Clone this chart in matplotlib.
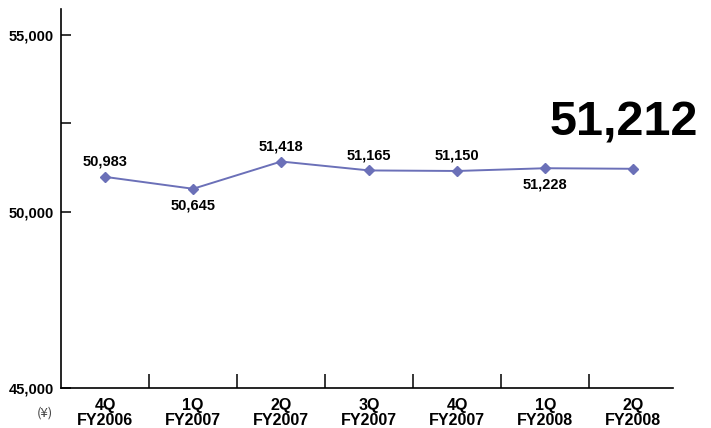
import matplotlib.pyplot as plt
import numpy as np

plt.rcParams['font.family'] = ['Liberation Sans', 'DejaVu Sans']

quarters = ['4Q\nFY2006', '1Q\nFY2007', '2Q\nFY2007', '3Q\nFY2007',
            '4Q\nFY2007', '1Q\nFY2008', '2Q\nFY2008']
values = [50983, 50645, 51418, 51165, 51150, 51228, 51212]
label_pos = ['above', 'below', 'above', 'above', 'above', 'below', None]

fig = plt.figure(figsize=(7.11, 4.28), dpi=100)
ax = fig.add_axes([61 / 711, 40 / 428, 612 / 711, 379 / 428])

x = np.arange(len(values))
ax.plot(x, values, color='#6b70b8', lw=1.4, marker='D', ms=5.5,
        mfc='#6b70b8', mec='#6b70b8', zorder=3)

for xi, v, pos in zip(x, values, label_pos):
    if pos is None:
        continue
    dy = 11 if pos == 'above' else -12
    ax.annotate(f'{v:,}', (xi, v), xytext=(0, dy), textcoords='offset points',
                ha='center', va='center', fontsize=10.5, fontweight='bold')

# latest value shown large
ax.annotate(f'{values[-1]:,}', (x[-1], values[-1]), xytext=(-7, 33),
            textcoords='offset points', ha='center', va='center',
            fontsize=35, fontweight='bold', annotation_clip=False)

ax.set_xlim(-0.5, 6.45)
ax.set_ylim(45000, 55740)

ax.spines['top'].set_visible(False)
ax.spines['right'].set_visible(False)
for s in ('left', 'bottom'):
    ax.spines[s].set_linewidth(1.2)

ax.set_yticks([45000, 50000, 52500, 55000])
ax.set_yticklabels(['45,000', '50,000', '', '55,000'], fontsize=10.5, fontweight='bold')
ax.tick_params(axis='y', direction='in', length=7, width=1.1, pad=5)

ax.set_xticks(np.arange(0.5, 6, 1))
ax.set_xticklabels([])
ax.tick_params(axis='x', which='major', direction='in', length=10, width=1.1)
ax.set_xticks(x, minor=True)
ax.set_xticklabels(quarters, minor=True, fontsize=11.5, fontweight='bold', linespacing=1.0)
ax.tick_params(axis='x', which='minor', length=0, pad=7)

fig.text(45 / 711, 1 - 413 / 428, '(¥)', ha='center', va='center', fontsize=9.5,
         color='#444444', family=['Noto Sans CJK JP', 'DejaVu Sans'])

fig.savefig('out.png', dpi=100)
